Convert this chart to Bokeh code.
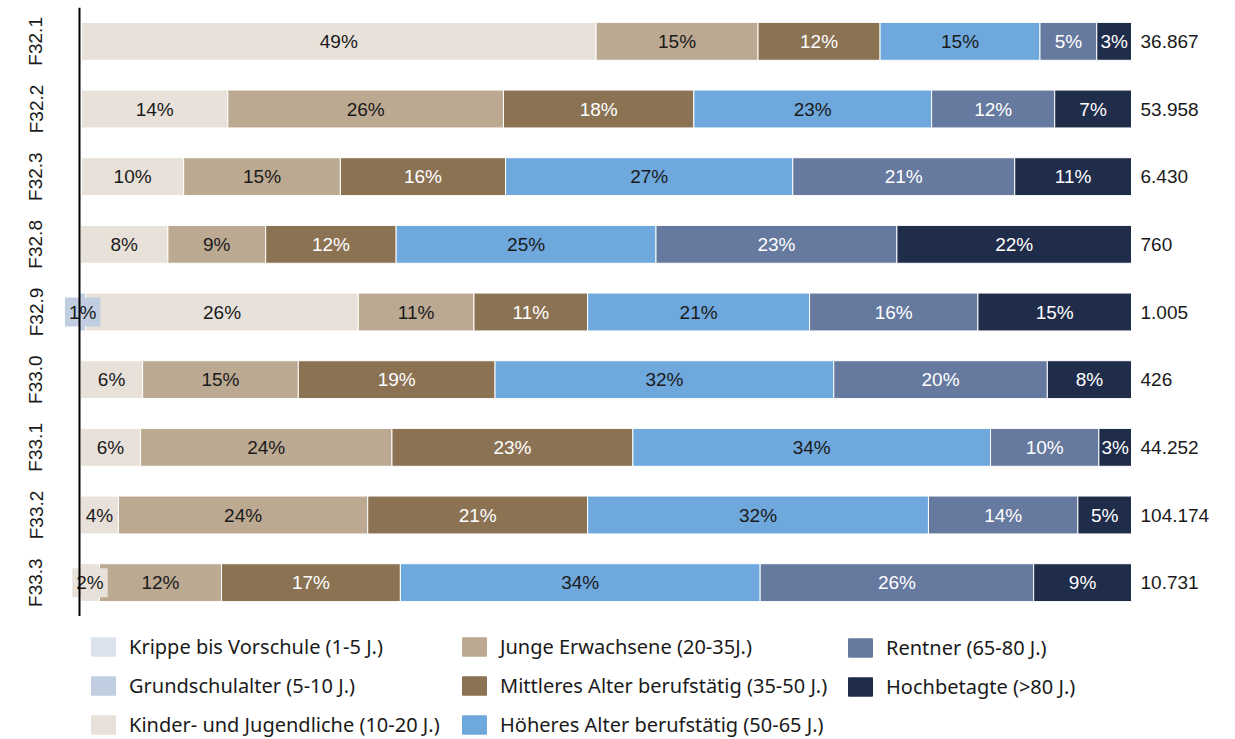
from bokeh.plotting import figure
from bokeh.layouts import column
from bokeh.models import ColumnDataSource, FactorRange, Range1d, Span, Legend, LegendItem
from bokeh.core.properties import value
from bokeh.embed import file_html
from bokeh.resources import INLINE

categories = ["F32.1", "F32.2", "F32.3", "F32.8", "F32.9", "F33.0", "F33.1", "F33.2", "F33.3"]
totals = ["36.867", "53.958", "6.430", "760", "1.005", "426", "44.252", "104.174", "10.731"]

series_names = [
    "Krippe bis Vorschule (1-5 J.)",
    "Grundschulalter (5-10 J.)",
    "Kinder- und Jugendliche (10-20 J.)",
    "Junge Erwachsene (20-35J.)",
    "Mittleres Alter berufstätig (35-50 J.)",
    "Höheres Alter berufstätig (50-65 J.)",
    "Rentner (65-80 J.)",
    "Hochbetagte (>80 J.)",
]
krippe = [0.1, 0.1, 0.1, 0.0, 0.0, 0.0, 0.0, 0.0, 0.0]
grundschule = [0.1, 0.1, 0.1, 0.1, 0.6, 0.1, 0.1, 0.1, 0.1]
kinder = [48.9, 13.9, 9.7, 8.3, 25.9, 5.9, 5.7, 3.6, 1.8]
junge = [15.4, 26.2, 14.9, 9.3, 11.0, 14.8, 23.9, 23.7, 11.6]
mittleres = [11.6, 18.1, 15.7, 12.4, 10.8, 18.7, 22.9, 20.9, 17.0]
hoeheres = [15.2, 22.6, 27.3, 24.7, 21.1, 32.2, 34.0, 32.4, 34.2]
rentner = [5.4, 11.7, 21.1, 22.9, 16.0, 20.3, 10.3, 14.2, 26.0]
hochbetagte = [3.3, 7.3, 11.1, 22.3, 14.6, 8.0, 3.1, 5.1, 9.3]

colors = ["#dbe3ee", "#c1cde0", "#e8e1da", "#bca992", "#8b7253", "#6fa8dc", "#66799f", "#1f2c4a"]
label_colors = ["#1a1a1a", "#1a1a1a", "#1a1a1a", "#1a1a1a", "#ffffff", "#1a1a1a", "#ffffff", "#ffffff"]

series = [krippe, grundschule, kinder, junge, mittleres, hoeheres, rentner, hochbetagte]
keys = ["s%d" % i for i in range(len(series))]

data = {"cat": categories, "total": totals}
for k, s in zip(keys, series):
    data[k] = s
source = ColumnDataSource(data)

PX = 10.52  # pixels per percent
FRAME_L = 58
x0 = -(79 - FRAME_L) / PX
x1 = x0 + (1233 - FRAME_L) / PX

p = figure(
    width=1235, height=616,
    y_range=FactorRange(factors=list(reversed(categories))),
    x_range=Range1d(x0, x1),
    output_backend="svg", toolbar_location=None,
    min_border_left=FRAME_L, min_border_right=2, min_border_top=7, min_border_bottom=0,
    outline_line_color=None,
)
p.xaxis.visible = False
p.xgrid.visible = False
p.ygrid.visible = False

renderers = p.hbar_stack(keys, y="cat", height=0.56, color=colors, source=source,
                         line_color="white", line_width=1)

# segment labels
big = {"x": [], "y": [], "t": [], "c": []}
small = {"x": [], "y": [], "t": [], "c": [], "bg": []}
for i, cat in enumerate(categories):
    left = 0.0
    for j, s in enumerate(series):
        v = s[i]
        if round(v) >= 1:
            txt = "%d%%" % round(v)
            mid = left + v / 2
            if v < 2.5:
                small["x"].append(mid); small["y"].append(cat); small["t"].append(txt)
                small["c"].append("#1a1a1a"); small["bg"].append(colors[j])
            else:
                big["x"].append(mid); big["y"].append(cat); big["t"].append(txt)
                big["c"].append(label_colors[j])
        left += v

p.text(x="x", y="y", text="t", text_color="c", source=ColumnDataSource(big),
       text_align="center", text_baseline="middle",
       text_font=value("Liberation Sans"), text_font_size="19px")
p.text(x="x", y="y", text="t", text_color="c", source=ColumnDataSource(small),
       text_align="center", text_baseline="middle",
       text_font=value("Liberation Sans"), text_font_size="19px",
       background_fill_color="bg", padding=4)

# totals
p.text(x=100, y="cat", text="total", source=source, x_offset=9,
       text_align="left", text_baseline="middle", text_color="#1a1a1a",
       text_font=value("Liberation Sans"), text_font_size="19px")

# axis
p.yaxis.axis_line_color = None
p.yaxis.major_tick_line_color = None
p.yaxis.minor_tick_line_color = None
p.yaxis.major_label_orientation = "vertical"
p.yaxis.major_label_standoff = 6
p.yaxis.major_label_text_font = "Liberation Sans"
p.yaxis.major_label_text_font_size = "19px"
p.yaxis.major_label_text_color = "#1a1a1a"
p.add_layout(Span(location=0, dimension="height", line_color="black", line_width=2))

# legend figure (frame aligned with main figure's frame)
lg = figure(width=1235, height=123, x_range=Range1d(0, 1), y_range=Range1d(0, 1),
            output_backend="svg", toolbar_location=None,
            min_border_left=0, min_border_right=0, min_border_top=0, min_border_bottom=0,
            outline_line_color=None)
lg.axis.visible = False
lg.grid.visible = False
dummy = [lg.hbar(y=[-50], left=[-60], right=[-59], height=0.5, color=c) for c in colors]

SPACING = 12
columns_items = [(0, 3, 30, 1), (3, 6, 401, 1), (6, 8, 787, 1 + 38.5)]
for a, b, vx, vy in columns_items:
    legend = Legend(
        items=[LegendItem(label=series_names[k], renderers=[dummy[k]]) for k in range(a, b)],
        location=(vx, vy), orientation="vertical",
        glyph_width=30, glyph_height=23, label_standoff=11, spacing=SPACING,
        label_height=23,
        label_text_font="Noto Sans", label_text_font_size="20px", label_text_color="#1a1a1a",
        border_line_color=None, background_fill_alpha=0, padding=0, margin=0,
    )
    lg.add_layout(legend, "center")

layout = column(p, lg, spacing=0)
open("out.html", "w").write(file_html(layout, INLINE))
